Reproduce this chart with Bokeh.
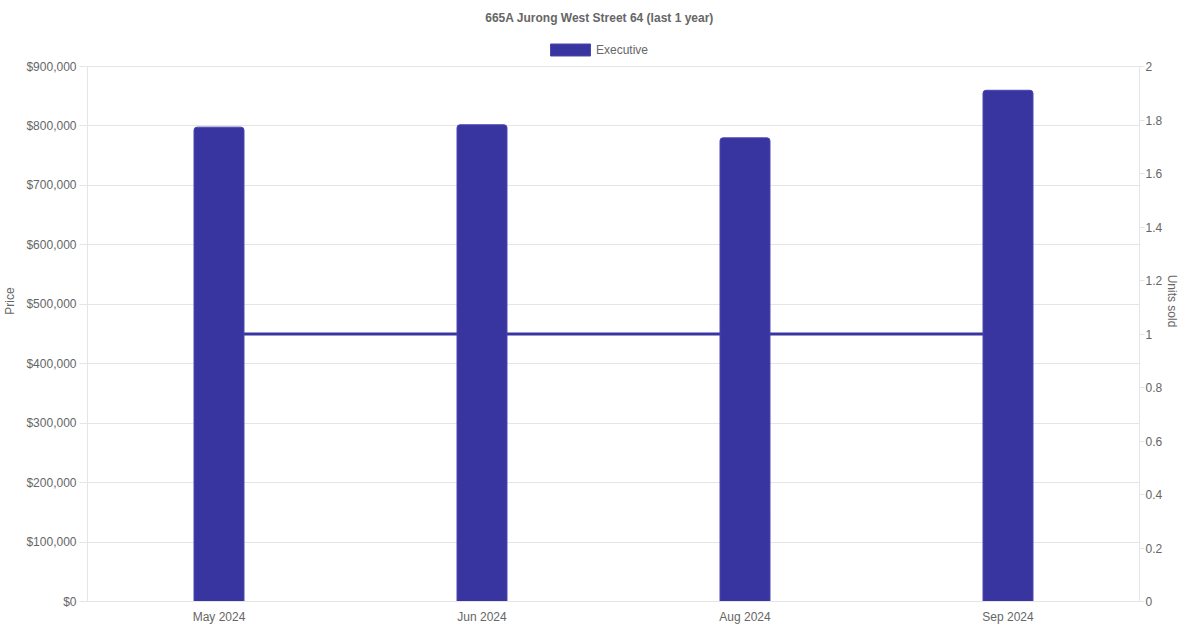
from bokeh.plotting import figure
from bokeh.models import (Range1d, LinearAxis, FixedTicker, NumeralTickFormatter,
                          CustomJSTickFormatter, Legend, LegendItem, FactorRange, Label)
from bokeh.embed import file_html
from bokeh.resources import INLINE

months = ["May 2024", "Jun 2024", "Aug 2024", "Sep 2024"]
prices = [798000, 802000, 780000, 860000]
units_sold = [1, 1, 1, 1]
series_name = "Executive"
title_text = "665A Jurong West Street 64 (last 1 year)"
price_max = 900000
price_step = 100000
units_max = 2
units_step = 0.2

FONT = "Liberation Sans"
TXT = "#666666"
GRID = "#e5e5e5"
BAR = "#3834a0"

W, H = 1184, 626
ML, MR, MT, MB = 80, 45, 0, 25
FW, FH = W - ML - MR, H - MT - MB
DATA_H = 535  # pixel height of the value area (bottom part of the frame)
scale = FH / DATA_H

p = figure(width=W, height=H, x_range=FactorRange(factors=months, range_padding=0),
           y_range=Range1d(0, price_max * scale), output_backend="svg", toolbar_location=None,
           min_border_left=ML, min_border_right=MR,
           min_border_top=MT, min_border_bottom=MB)
p.outline_line_color = None
p.background_fill_color = "white"
p.border_fill_color = "white"

p.extra_y_ranges = {"units": Range1d(0, units_max * scale)}

# line first (behind bars)
p.line(x=months, y=units_sold, y_range_name="units", line_color=BAR, line_width=3)

bars = p.vbar(x=months, top=prices, width=0.19, fill_color=BAR, line_color="#4a47b0",
              line_width=1, border_radius=(3, 3, 0, 0))

price_ticks = list(range(0, price_max + 1, price_step))
unit_ticks = [round(i * units_step, 1) for i in range(int(round(units_max / units_step)) + 1)]

# left axis
ya = p.yaxis[0]
ya.ticker = FixedTicker(ticks=price_ticks)
ya.bounds = (0, price_max)
ya.formatter = NumeralTickFormatter(format="$0,0")
ya.axis_label = "Price"
ya.axis_label_text_font = FONT
ya.axis_label_text_font_size = "12px"
ya.axis_label_text_font_style = "normal"
ya.axis_label_text_color = TXT
ya.axis_label_standoff = 6
ya.major_label_text_font = FONT
ya.major_label_text_font_size = "12px"
ya.major_label_text_color = TXT
ya.major_label_standoff = 3
ya.axis_line_color = GRID
ya.major_tick_line_color = GRID
ya.major_tick_out = 8
ya.major_tick_in = 0
ya.minor_tick_line_color = None

# right axis
ra = LinearAxis(y_range_name="units", ticker=FixedTicker(ticks=unit_ticks),
                bounds=(0, units_max),
                formatter=CustomJSTickFormatter(code="return String(Math.round(tick*10)/10);"))
ra.axis_label = "Units sold"
ra.axis_label_text_font = FONT
ra.axis_label_text_font_size = "12px"
ra.axis_label_text_font_style = "normal"
ra.axis_label_text_color = TXT
ra.axis_label_standoff = 0
ra.major_label_text_font = FONT
ra.major_label_text_font_size = "12px"
ra.major_label_text_color = TXT
ra.major_label_standoff = 1
ra.axis_line_color = GRID
ra.major_tick_line_color = GRID
ra.major_tick_out = 5
ra.major_tick_in = 0
ra.minor_tick_line_color = None
p.add_layout(ra, "right")

# x axis
xa = p.xaxis[0]
xa.major_label_text_font = FONT
xa.major_label_text_font_size = "12px"
xa.major_label_text_color = TXT
xa.major_label_standoff = 8
xa.axis_line_color = GRID
xa.major_tick_line_color = None
xa.major_tick_out = 0
xa.major_tick_in = 0

p.xgrid.grid_line_color = None
p.ygrid.grid_line_color = GRID
p.ygrid.ticker = FixedTicker(ticks=price_ticks)

# title above the value area
title = Label(x=512, y=DATA_H + 49, x_units="screen", y_units="screen", text=title_text,
              text_align="center", text_baseline="middle", text_font=FONT,
              text_font_size="12px", text_font_style="bold", text_color=TXT)
p.add_layout(title)

legend = Legend(items=[LegendItem(label=series_name, renderers=[bars])],
                orientation="horizontal", location=(458, DATA_H + 9),
                glyph_width=50, glyph_height=15, label_height=15, label_text_font=FONT,
                label_text_font_size="12px", label_text_color=TXT,
                label_text_baseline="middle",
                border_line_color=None, background_fill_alpha=0,
                padding=0, margin=0, spacing=0, label_standoff=1)
p.add_layout(legend, "center")

open("out.html", "w").write(file_html(p, INLINE))
